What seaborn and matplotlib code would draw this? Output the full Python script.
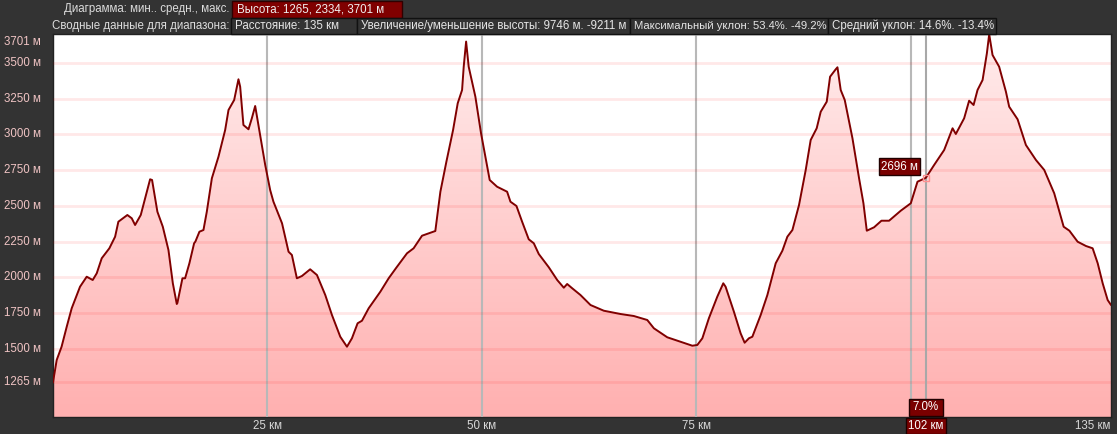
import numpy as np
import matplotlib
matplotlib.use('Agg')
import matplotlib.pyplot as plt
import seaborn as sns
from matplotlib.patches import Rectangle
from matplotlib.colors import LinearSegmentedColormap

# elevation profile (km, m)
dist_km = [0.0, 0.43, 1.0, 1.6, 2.18, 3.15, 3.93, 4.63, 5.1, 5.68, 6.57, 7.24, 7.62, 8.67, 9.18,
           9.57, 10.23, 11.32, 11.55, 12.17, 12.8, 13.46, 13.97, 14.43, 14.5, 15.09, 15.4, 15.9,
           16.45, 16.6, 17.07, 17.54, 17.93, 18.52, 19.29, 20.07, 20.46, 21.12, 21.62, 21.82,
           22.2, 22.79, 23.18, 23.57, 24.24, 24.74, 25.32, 25.7, 26.7, 27.46, 27.85, 28.43,
           29.02, 29.98, 30.77, 31.74, 32.52, 33.49, 34.27, 34.85, 35.51, 36.02, 36.8, 38.16,
           39.13, 40.02, 41.27, 42.04, 43.02, 44.57, 45.16, 45.86, 46.64, 47.18, 47.69, 47.88,
           48.16, 48.46, 49.24, 49.9, 50.41, 50.91, 51.77, 52.94, 53.33, 54.03, 54.69, 55.46,
           56.05, 56.63, 57.8, 58.78, 59.55, 59.94, 60.53, 61.49, 62.66, 64.21, 66.16, 67.71,
           69.28, 70.05, 71.61, 73.16, 74.53, 75.11, 75.7, 76.46, 77.44, 78.14, 78.41, 79.38,
           80.16, 80.63, 81.13, 81.53, 82.5, 83.28, 84.25, 85.03, 85.61, 86.2, 86.97, 87.75,
           88.33, 89.03, 89.5, 90.2, 90.59, 91.25, 91.45, 91.83, 92.3, 93.2, 93.97, 94.48,
           94.87, 95.72, 96.58, 97.47, 98.83, 100.0, 100.78, 101.75, 102.72, 103.89, 104.87,
           105.25, 106.22, 106.8, 107.32, 107.78, 108.37, 108.87, 109.14, 109.53, 110.3,
           111.09, 111.47, 112.45, 113.42, 114.59, 115.56, 116.72, 117.82, 118.49, 119.45,
           120.42, 121.2, 121.79, 122.37, 122.95, 123.34]
elev_m = [1265, 1421, 1514, 1654, 1783, 1934, 2004, 1981, 2028, 2133, 2203, 2284, 2389, 2436, 2413,
          2366, 2436, 2686, 2681, 2459, 2354, 2191, 1958, 1813, 1820, 1993, 1993, 2098,
          2238, 2250, 2319, 2331, 2459, 2693, 2844, 3031, 3171, 3241, 3386, 3334,
          3066, 3036, 3113, 3199, 2961, 2786, 2610, 2529, 2378, 2179, 2156, 1993,
          2009, 2056, 2016, 1876, 1736, 1584, 1514, 1573, 1678, 1696, 1783, 1899,
          1993, 2067, 2168, 2203, 2291, 2324, 2599, 2809, 3031, 3218, 3311, 3474,
          3650, 3474, 3264, 3008, 2844, 2681, 2634, 2599, 2529, 2499, 2389, 2266,
          2238, 2163, 2070, 1981, 1927, 1953, 1923, 1876, 1806, 1766, 1743, 1729,
          1701, 1643, 1580, 1549, 1521, 1526, 1573, 1713, 1864, 1958, 1934, 1759,
          1608, 1542, 1573, 1584, 1736, 1876, 2098, 2186, 2284, 2331, 2506, 2751,
          2961, 3043, 3159, 3229, 3404, 3456, 3470, 3311, 3241, 2973, 2693, 2518,
          2326, 2350, 2396, 2396, 2466, 2518, 2669, 2696, 2786, 2891, 3043,
          3003, 3113, 3236, 3206, 3311, 3381, 3568, 3701, 3556, 3474,
          3299, 3194, 3106, 2926, 2821, 2751, 2588, 2354, 2326, 2249,
          2219, 2203, 2098, 1958, 1841, 1806]

y_ticks = [1265, 1500, 1750, 2000, 2250, 2500, 2750, 3000, 3250, 3500]
y_top = 3701
x_ticks = [25, 50, 75, 100]
x_labels = ['25 км', '50 км', '75 км', '']
total_label = '135 км'

cursor_km = 101.75
cursor_elev = 2696
cursor_labels = ['2696 м', '7.0%', '102 км']

header_title = 'Диаграмма: мин.. средн., макс.'
header_value = 'Высота: 1265, 2334, 3701 м'
summary_title = 'Сводные данные для диапазона:'
summary_items = ['Расстояние: 135 км',
                 'Увеличение/уменьшение высоты: 9746 м. -9211 м',
                 'Максимальный уклон: 53.4%. -49.2%',
                 'Средний уклон: 14.6%. -13.4%']

sns.set_style('white')
plt.rcParams['font.family'] = ['Liberation Sans', 'DejaVu Sans']
plt.rcParams['font.size'] = 8

W, H = 1117, 434
fig = plt.figure(figsize=(W / 100, H / 100), dpi=100, facecolor='#333333')
L, T, R, B = 53, 34, 1111, 417
ax = fig.add_axes([L / W, (H - B) / H, (R - L) / W, (B - T) / H])
ax.set_facecolor('white')

df_x = np.array(dist_km)
df_y = np.array(elev_m)
ymin, ymax = 1022, 3703
ax.set_xlim(0, df_x[-1])
ax.set_ylim(ymin, ymax)

# gradient fill under the profile
poly = ax.fill_between(df_x, df_y, ymin, color='none', lw=0)
cmap = LinearSegmentedColormap.from_list('pk', ['#ffb0b0', '#ffecec'])
grad = np.linspace(0, 1, 256).reshape(-1, 1)
img = ax.imshow(grad, cmap=cmap, aspect='auto', origin='lower',
                extent=[0, df_x[-1], ymin, ymax], zorder=1)
img.set_clip_path(poly.get_paths()[0], transform=ax.transData)

sns.lineplot(x=df_x, y=df_y, ax=ax, color='#800000', lw=1.4, zorder=4)

ax.set_yticks(y_ticks)
ax.set_yticklabels([])
ax.set_xticks(x_ticks)
ax.set_xticklabels([])
ax.tick_params(length=0)
ax.set_axisbelow(False)
ax.yaxis.grid(True, color='#ff0000', alpha=0.09, lw=2)
ax.xaxis.grid(True, color='#b8b8b8', lw=1.5)
for s in ax.spines.values():
    s.set_color('#222222')
    s.set_linewidth(1)

# cursor line
ax.axvline(cursor_km, color='#a8a8a8', lw=1.5, zorder=3)
ax.plot([cursor_km], [cursor_elev], marker='s', ms=5, mfc='none', mec='#ff9090', zorder=5)

# y labels
for v in y_ticks:
    ax.annotate(f'{v} м', xy=(0, v), xycoords=('axes fraction', 'data'), xytext=(-49, 0),
                textcoords='offset pixels', ha='left', va='center', color='#f0c4c4', fontsize=8.3)
ax.annotate(f'{y_top} м', xy=(0, y_top), xycoords=('axes fraction', 'data'), xytext=(-49, -8),
            textcoords='offset pixels', ha='left', va='center', color='#f0c4c4', fontsize=8.3)

# x labels
for v, lab in zip(x_ticks, x_labels):
    ax.annotate(lab, xy=(v, 0), xycoords=('data', 'axes fraction'), xytext=(0, -9),
                textcoords='offset pixels', ha='center', va='center', color='#d8d8d8', fontsize=8.3)
ax.annotate(total_label, xy=(1, 0), xycoords='axes fraction', xytext=(-1, -9),
            textcoords='offset pixels', ha='right', va='center', color='#d8d8d8', fontsize=8.3)


def px_box(x0, y0, x1, y1, fc, ec):
    fig.add_artist(Rectangle((x0 / W, 1 - y1 / H), (x1 - x0) / W, (y1 - y0) / H,
                             transform=fig.transFigure, fc=fc, ec=ec, lw=1, zorder=10))


def px_text(x, y, s, ha='left', color='#e6e6e6', size=8.3, fit=None):
    t = fig.text(x / W, 1 - y / H, s, ha=ha, va='center', color=color, fontsize=size, zorder=11)
    if fit is not None:
        r = fig.canvas.get_renderer()
        w = t.get_window_extent(r).width
        if w > fit:
            t.set_fontsize(size * fit / w)
    return t


# cursor labels
cx = L + cursor_km / df_x[-1] * (R - L)
px_box(879, 158, 920, 175, '#7a0000', '#200000')
px_text(899.5, 166.5, cursor_labels[0], ha='center', color='white', fit=39)
px_box(cx - 17, 399, cx + 17, 416, '#7a0000', '#200000')
px_text(cx, 407.5, cursor_labels[1], ha='center', color='white', fit=32)
px_box(cx - 20, 418, cx + 20, 434, '#7a0000', '#200000')
px_text(cx, 426, cursor_labels[2], ha='center', color='white', fit=38)

# header
px_text(230, 9, header_title, ha='right', color='#dcdcdc')
px_box(232, 1, 402, 18, '#800000', '#300000')
px_text(237, 9.5, header_value, color='#f0f0f0', fit=162)
px_text(230, 26, summary_title, ha='right', color='#dcdcdc')
edges = [231, 357, 630, 828, 996]
for i, item in enumerate(summary_items):
    px_box(edges[i], 18, edges[i + 1], 34, '#333333', '#111111')
    px_text(edges[i] + 4, 26, item, color='#e6e6e6', fit=edges[i + 1] - edges[i] - 6)

fig.savefig('out.png', dpi=100, facecolor=fig.get_facecolor())
